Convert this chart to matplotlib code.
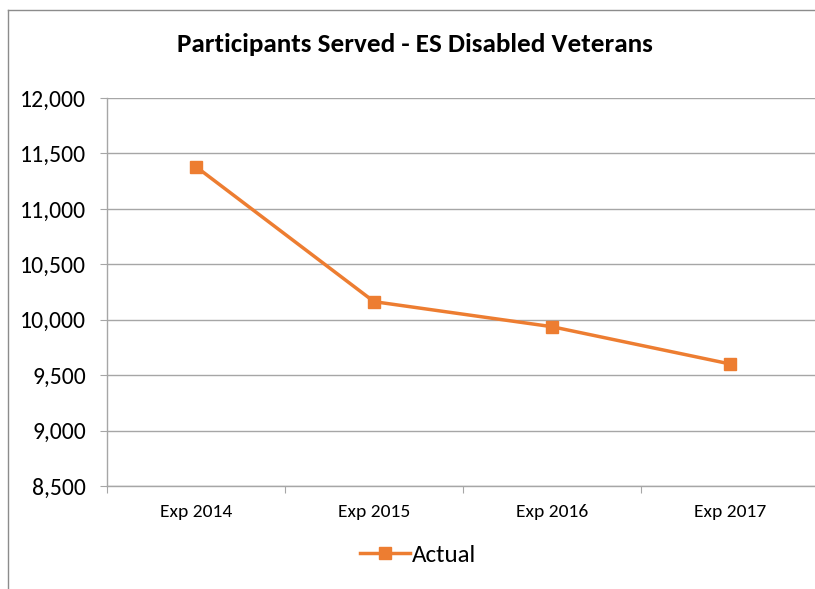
import matplotlib
matplotlib.use("Agg")
import matplotlib.pyplot as plt
from matplotlib.lines import Line2D

# data
categories = ["Exp 2014", "Exp 2015", "Exp 2016", "Exp 2017"]
actual = [11380, 10163, 9937, 9601]
yticks = [8500, 9000, 9500, 10000, 10500, 11000, 11500, 12000]

plt.rcParams['font.family'] = ['Carlito', 'Lato', 'DejaVu Sans']

orange = "#ED7D31"
grid_grey = "#A6A6A6"

fig = plt.figure(figsize=(8.15, 5.89), dpi=100)
ax = fig.add_axes([107 / 815, 1 - 486 / 589, 712 / 815, 388 / 589])

xs = [i + 0.5 for i in range(len(categories))]
ax.plot(xs, actual, color=orange, linewidth=2.5, marker="s", markersize=9,
        label="Actual", clip_on=False)

ax.set_xlim(0, len(categories))
ax.set_ylim(yticks[0], yticks[-1])
ax.set_yticks(yticks)
ax.set_yticklabels([f"{v:,}" for v in yticks], fontsize=17)
ax.set_xticks(range(len(categories) + 1))
ax.set_xticklabels([])
ax.set_xticks(xs, minor=True)
ax.set_xticklabels(categories, minor=True, fontsize=14)
ax.tick_params(axis="x", which="minor", length=0, pad=13)
ax.tick_params(axis="x", which="major", length=5, color=grid_grey)
ax.tick_params(axis="y", length=5, color=grid_grey, pad=10)

ax.grid(axis="y", color=grid_grey, linewidth=1)
ax.set_axisbelow(True)
for side in ["top", "right"]:
    ax.spines[side].set_visible(False)
for side in ["left", "bottom"]:
    ax.spines[side].set_color(grid_grey)
    ax.spines[side].set_linewidth(1)

fig.text(415 / 815, 1 - 45 / 589, "Participants Served - ES Disabled Veterans",
         ha="center", va="center", fontsize=19.5, fontweight="bold")

fig.legend(loc="center", bbox_to_anchor=(418 / 815, 1 - 555 / 589), frameon=False,
           fontsize=18, handlelength=2.0, handletextpad=0.1)

# outer chart border: only left and top edges show in the crop
bx, by = 8 / 815, 1 - 10 / 589
fig.add_artist(Line2D([bx, bx], [0, by], transform=fig.transFigure,
                      color="#8C8C8C", linewidth=1))
fig.add_artist(Line2D([bx, 1], [by, by], transform=fig.transFigure,
                      color="#8C8C8C", linewidth=1))

fig.savefig("out.png", dpi=100)
